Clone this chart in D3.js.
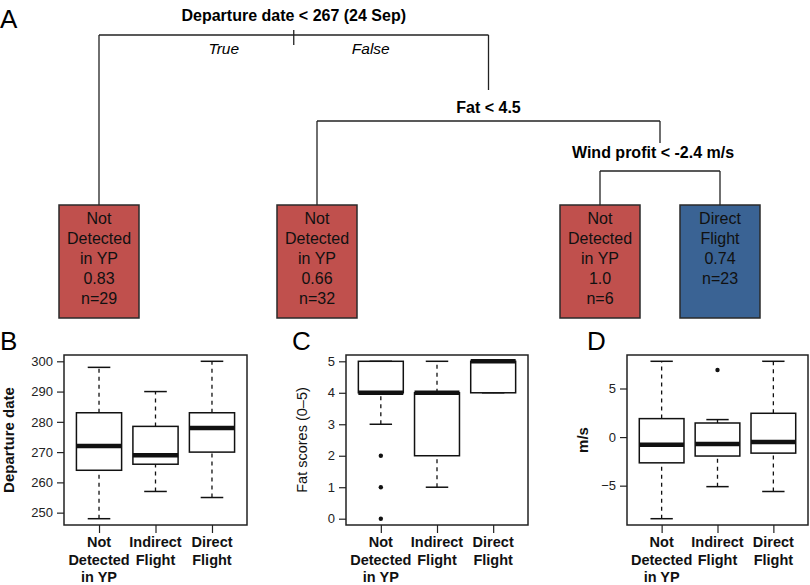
<!DOCTYPE html>
<html>
<head>
<meta charset="utf-8">
<script src="https://cdn.jsdelivr.net/npm/d3@7"></script>
<style>
  body { margin: 0; background: #fff; }
  svg { font-family: "Liberation Sans", Arial, sans-serif; }
</style>
</head>
<body>
<svg id="chart" width="810" height="585"></svg>
<script>
'use strict'

// panel A: classification tree
const splitLabels = ['Departure date < 267 (24 Sep)', 'Fat < 4.5', 'Wind profit < -2.4 m/s']
const branchLabels = ['True', 'False']
const leafClasses = ['Not Detected in YP', 'Not Detected in YP', 'Not Detected in YP', 'Direct Flight']
const leafProbs = ['0.83', '0.66', '1.0', '0.74']
const leafCounts = [29, 32, 6, 23]

// panels B-D: box stats per group = [lower whisker, q1, median, q3, upper whisker]
const groupNames = ['Not Detected in YP', 'Indirect Flight', 'Direct Flight']
const groupLines = [['Not', 'Detected', 'in YP'], ['Indirect', 'Flight'], ['Direct', 'Flight']]

const departureStats = [[248, 264, 272, 283, 298], [257, 266, 269, 278.5, 290], [255, 270, 278, 283, 300]]
const departureOutliers = [[], [], []]
const departureTicks = [250, 260, 270, 280, 290, 300]

const fatStats = [[3, 4, 4, 5, 5], [1, 2, 4, 4, 5], [4, 4, 5, 5, 5]]
const fatOutliers = [[2, 1, 0], [], []]
const fatTicks = [0, 1, 2, 3, 4, 5]

const windStats = [[-8.4, -2.65, -0.8, 1.9, 7.8], [-5.1, -1.95, -0.7, 1.45, 1.8], [-5.6, -1.65, -0.5, 2.45, 7.8]]
const windOutliers = [[], [6.9], []]
const windTicks = [-5, 0, 5]

const svg = d3.select('#chart')

const classColor = d3.scaleOrdinal()
    .domain(groupNames)
    .range(['#c0504d', '#7f7f7f', '#3a6394'])

function drawTree() {

    // layout of the tree
    const leafX = [99, 317, 600, 720]
    const leafTop = 205, leafW = 80, leafH = 113
    const splitY = [35, 121, 171]
    const splitTextY = [21, 113, 158]

    const nodeX = []
    nodeX[2] = (leafX[2] + leafX[3]) / 2
    nodeX[1] = (leafX[1] + nodeX[2]) / 2
    nodeX[0] = (leafX[0] + nodeX[1]) / 2

    // children of each split: {leaf: i} or {split: i}
    const children = [
        [{ leaf: 0 }, { split: 1 }],
        [{ leaf: 1 }, { split: 2 }],
        [{ leaf: 2 }, { leaf: 3 }]
    ]

    const g = svg.append('g')
        .attr('stroke', '#222')
        .attr('stroke-width', 1.3)
        .attr('fill', 'none')

    children.forEach((pair, i) => {
        let xs = pair.map(c => c.leaf !== undefined ? leafX[c.leaf] : nodeX[c.split])
        g.append('line')
            .attr('x1', xs[0]).attr('x2', xs[1])
            .attr('y1', splitY[i]).attr('y2', splitY[i])
        pair.forEach((c, k) => {
            let yEnd = c.leaf !== undefined ? leafTop : splitTextY[c.split] - 23 + (c.split === 2 ? 8 : 0)
            g.append('line')
                .attr('x1', xs[k]).attr('x2', xs[k])
                .attr('y1', splitY[i]).attr('y2', yEnd)
        })
    })

    // root tick
    g.append('line')
        .attr('x1', nodeX[0]).attr('x2', nodeX[0])
        .attr('y1', splitY[0] - 5).attr('y2', splitY[0] + 10)

    svg.selectAll('.split-label')
        .data(splitLabels)
        .enter().append('text')
        .attr('class', 'split-label')
        .attr('x', (d, i) => nodeX[i] - (i === 2 ? 7 : 0))
        .attr('y', (d, i) => splitTextY[i])
        .attr('text-anchor', 'middle')
        .attr('font-size', 16)
        .attr('font-weight', 'bold')
        .text(d => d)

    svg.selectAll('.branch-label')
        .data(branchLabels)
        .enter().append('text')
        .attr('class', 'branch-label')
        .attr('x', (d, i) => nodeX[0] + (i === 0 ? -70 : 77))
        .attr('y', 54)
        .attr('text-anchor', 'middle')
        .attr('font-size', 15.5)
        .attr('font-style', 'italic')
        .text(d => d)

    let leaves = svg.selectAll('.leaf')
        .data(leafClasses)
        .enter().append('g')
        .attr('class', 'leaf')
        .attr('transform', (d, i) => 'translate(' + leafX[i] + ',' + leafTop + ')')

    leaves.append('rect')
        .attr('x', -leafW / 2)
        .attr('y', 0)
        .attr('width', leafW)
        .attr('height', leafH)
        .attr('fill', d => classColor(d))
        .attr('stroke', '#2a2a2a')
        .attr('stroke-width', 1.5)

    leaves.each(function (d, i) {
        let lines = groupLines[groupNames.indexOf(d)].concat([leafProbs[i], 'n=' + leafCounts[i]])
        d3.select(this).selectAll('text')
            .data(lines)
            .enter().append('text')
            .attr('x', 0)
            .attr('y', (t, k) => 19 + k * 20)
            .attr('text-anchor', 'middle')
            .attr('font-size', 16)
            .attr('fill', '#111')
            .text(t => t)
    })
}

function drawBoxPanel(opts) {

    const top = 355, bottom = 525

    let values = opts.stats.flat().concat(opts.outliers.flat())
    let ext = d3.extent(values)
    let pad = (ext[1] - ext[0]) * 0.04

    let y = d3.scaleLinear()
        .domain([ext[0] - pad, ext[1] + pad])
        .range([bottom, top])

    let x = d3.scaleLinear()
        .domain([0.38, 3.62])
        .range([opts.left, opts.right])

    let half = (x(1.4) - x(1)) // half box width
    let staple = half / 2

    let g = svg.append('g')

    // y axis
    let yAxis = g.append('g')
        .attr('transform', 'translate(' + opts.left + ',0)')
        .call(d3.axisLeft(y).tickValues(opts.ticks).tickSize(7).tickPadding(4).tickFormat(d3.format('d')))
    yAxis.select('.domain').remove()
    yAxis.selectAll('line').attr('stroke', '#222').attr('stroke-width', 1.2)
    yAxis.selectAll('text')
        .attr('font-family', '"Liberation Sans", Arial, sans-serif')
        .attr('font-size', 13)
        .attr('fill', '#222')

    // x axis
    let xAxis = g.append('g')
        .attr('transform', 'translate(0,' + bottom + ')')
        .call(d3.axisBottom(x).tickValues([1, 2, 3]).tickSize(8).tickFormat(''))
    xAxis.select('.domain').remove()
    xAxis.selectAll('line').attr('stroke', '#222').attr('stroke-width', 1.2)

    groupLines.forEach((lines, i) => {
        g.selectAll(null)
            .data(lines)
            .enter().append('text')
            .attr('x', x(i + 1))
            .attr('y', (t, k) => bottom + 22 + k * 17.5)
            .attr('text-anchor', 'middle')
            .attr('font-size', 14.5)
            .attr('font-weight', 'bold')
            .attr('fill', '#111')
            .text(t => t)
    })

    // whiskers
    let boxes = g.selectAll('.box')
        .data(opts.stats)
        .enter().append('g')
        .attr('class', 'box')
        .attr('stroke', '#111')
        .attr('fill', 'none')

    boxes.append('line')
        .attr('x1', (d, i) => x(i + 1)).attr('x2', (d, i) => x(i + 1))
        .attr('y1', d => y(d[0])).attr('y2', d => y(d[1]))
        .attr('stroke-dasharray', '4,4')
        .attr('stroke-width', 1.3)

    boxes.append('line')
        .attr('x1', (d, i) => x(i + 1)).attr('x2', (d, i) => x(i + 1))
        .attr('y1', d => y(d[3])).attr('y2', d => y(d[4]))
        .attr('stroke-dasharray', '4,4')
        .attr('stroke-width', 1.3)

    boxes.append('line')
        .attr('x1', (d, i) => x(i + 1) - staple).attr('x2', (d, i) => x(i + 1) + staple)
        .attr('y1', d => y(d[0])).attr('y2', d => y(d[0]))
        .attr('stroke-width', 1.5)

    boxes.append('line')
        .attr('x1', (d, i) => x(i + 1) - staple).attr('x2', (d, i) => x(i + 1) + staple)
        .attr('y1', d => y(d[4])).attr('y2', d => y(d[4]))
        .attr('stroke-width', 1.5)

    boxes.append('rect')
        .attr('x', (d, i) => x(i + 1) - half)
        .attr('width', half * 2)
        .attr('y', d => y(d[3]))
        .attr('height', d => y(d[1]) - y(d[3]))
        .attr('fill', '#fff')
        .attr('stroke-width', 1.5)

    boxes.append('line')
        .attr('x1', (d, i) => x(i + 1) - half).attr('x2', (d, i) => x(i + 1) + half)
        .attr('y1', d => y(d[2])).attr('y2', d => y(d[2]))
        .attr('stroke-width', 4.5)

    // outliers
    opts.outliers.forEach((list, i) => {
        g.selectAll(null)
            .data(list)
            .enter().append('circle')
            .attr('cx', x(i + 1))
            .attr('cy', d => y(d))
            .attr('r', 2.2)
            .attr('fill', '#111')
    })

    // frame
    g.append('rect')
        .attr('x', opts.left)
        .attr('y', top)
        .attr('width', opts.right - opts.left)
        .attr('height', bottom - top)
        .attr('fill', 'none')
        .attr('stroke', '#222')
        .attr('stroke-width', 1.5)

    // y label
    g.append('text')
        .attr('transform', 'translate(' + opts.labelX + ',' + (top + bottom) / 2 + ') rotate(-90)')
        .attr('dy', '0.35em')
        .attr('text-anchor', 'middle')
        .attr('font-size', opts.labelSize)
        .attr('font-weight', opts.labelBold ? 'bold' : 'normal')
        .attr('fill', '#111')
        .text(opts.ylabel)

    // panel letter
    svg.append('text')
        .attr('x', opts.letterX)
        .attr('y', 350)
        .attr('font-size', 26)
        .text(opts.letter)
}

drawTree()

svg.append('text')
    .attr('x', 0)
    .attr('y', 28)
    .attr('font-size', 26)
    .text('A')

drawBoxPanel({
    letter: 'B', letterX: 0, left: 64, right: 247,
    stats: departureStats, outliers: departureOutliers, ticks: departureTicks,
    ylabel: 'Departure date', labelX: 9, labelBold: true, labelSize: 15
})

drawBoxPanel({
    letter: 'C', letterX: 292, left: 346, right: 528,
    stats: fatStats, outliers: fatOutliers, ticks: fatTicks,
    ylabel: 'Fat scores (0\u20135)', labelX: 302, labelBold: false, labelSize: 14.5
})

drawBoxPanel({
    letter: 'D', letterX: 587, left: 627, right: 808,
    stats: windStats, outliers: windOutliers, ticks: windTicks,
    ylabel: 'm/s', labelX: 583, labelBold: true, labelSize: 15
})
</script>
</body>
</html>
